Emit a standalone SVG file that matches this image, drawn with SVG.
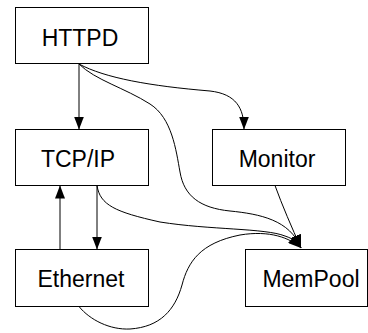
<svg xmlns="http://www.w3.org/2000/svg" width="368" height="333" viewBox="0 0 368 333">
<defs>
<marker id="ah" markerUnits="userSpaceOnUse" markerWidth="14" markerHeight="10" refX="13" refY="5" orient="auto">
<path d="M0,0 L13,5 L0,10 z" fill="#000"/>
</marker>
<style>
.box{fill:#fff;stroke:#000;stroke-width:1}
.lbl{font-family:"Liberation Sans",Arial,sans-serif;font-size:23px;fill:#000;text-anchor:middle}
.edge{fill:none;stroke:#000;stroke-width:1;marker-end:url(#ah)}
</style>
</defs>
<rect width="368" height="333" fill="#fff"/>
<g id="connectors">
<path class="edge" d="M79,64 L79,129.5"/>
<path class="edge" d="M79,64 C105,78 150,86 210,91 C236,94 244,108 244,129.5"/>
<path class="edge" d="M79,64 C95,80 125,88 150,104 C172,118 176,150 180,172 C184,196 200,208 230,211 C260,214 290,220 301,248"/>
<path class="edge" d="M97,185.5 C100,205 115,212 160,222 C210,230 265,228 285,236 C294,239 299,243 301,248"/>
<path class="edge" d="M275,185.5 C282,205 292,228 301,248"/>
<path class="edge" d="M79,306.5 C90,320 110,330 130,329 C160,327 175,310 182,285 C188,262 200,243 240,235 C270,230 290,238 301,248"/>
<path class="edge" d="M97,185.5 L97,249.5"/>
<path class="edge" d="M60,249.5 L60,185.5"/>
</g>
<g id="httpd"><rect class="box" x="15.5" y="7.5" width="133" height="56"/><text class="lbl" x="80" y="45.5">HTTPD</text></g>
<g id="tcpip"><rect class="box" x="15.5" y="129.5" width="133" height="56"/><text class="lbl" x="78" y="166.5">TCP/IP</text></g>
<g id="monitor"><rect class="box" x="212.5" y="129.5" width="133" height="56"/><text class="lbl" x="277" y="166.5">Monitor</text></g>
<g id="ethernet"><rect class="box" x="15.5" y="249.5" width="133" height="57"/><text class="lbl" x="81" y="286.5">Ethernet</text></g>
<g id="mempool"><rect class="box" x="245.5" y="249.5" width="122" height="57"/><text class="lbl" x="311" y="286.5">MemPool</text></g>
</svg>
